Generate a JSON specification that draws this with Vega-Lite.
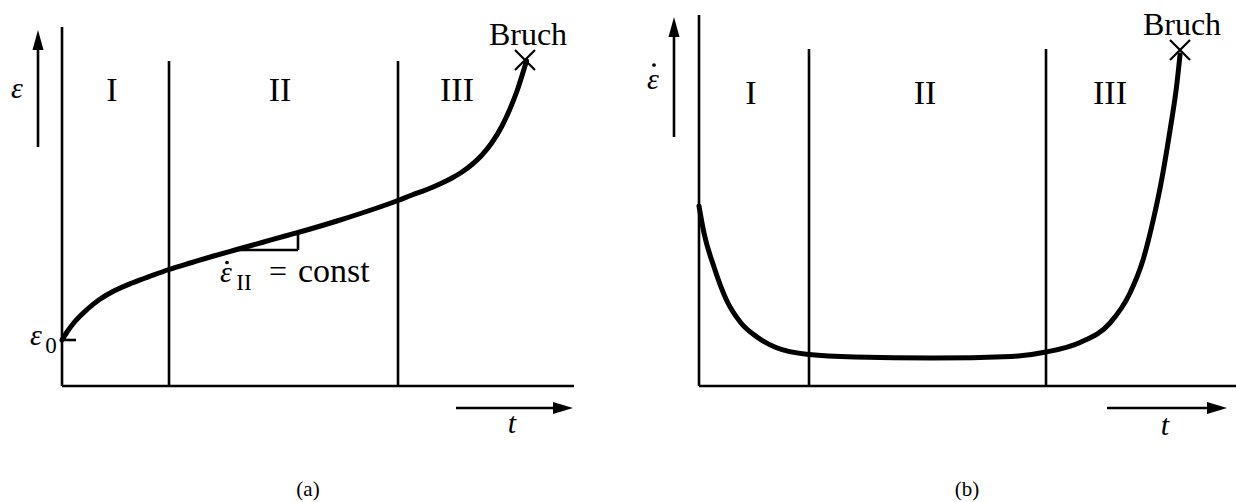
{
  "$schema": "https://vega.github.io/schema/vega-lite/v6.json",
  "padding": 0,
  "spacing": 0,
  "background": "white",
  "config": {"view": {"stroke": null}, "concat": {"spacing": 0}},
  "datasets": {
    "creepStrain": [
      {"t": 0, "e": 0.92}, {"t": 0.1, "e": 1.08}, {"t": 0.25, "e": 1.28}, {"t": 0.5, "e": 1.53},
      {"t": 0.75, "e": 1.73}, {"t": 1.0, "e": 1.88}, {"t": 1.4, "e": 2.06}, {"t": 1.8, "e": 2.21},
      {"t": 2.14, "e": 2.33}, {"t": 2.6, "e": 2.47}, {"t": 3.0, "e": 2.59}, {"t": 3.46, "e": 2.72},
      {"t": 4.0, "e": 2.87}, {"t": 4.5, "e": 3.01}, {"t": 4.72, "e": 3.07}, {"t": 5.0, "e": 3.15},
      {"t": 5.5, "e": 3.3}, {"t": 6.0, "e": 3.46}, {"t": 6.5, "e": 3.63}, {"t": 6.72, "e": 3.71},
      {"t": 7.0, "e": 3.82}, {"t": 7.3, "e": 3.93}, {"t": 7.6, "e": 4.06}, {"t": 7.8, "e": 4.16},
      {"t": 8.0, "e": 4.28}, {"t": 8.2, "e": 4.43}, {"t": 8.4, "e": 4.62}, {"t": 8.6, "e": 4.87},
      {"t": 8.8, "e": 5.2}, {"t": 8.95, "e": 5.52}, {"t": 9.1, "e": 5.9}, {"t": 9.29, "e": 6.5}
    ],
    "creepRate": [
      {"t": 0, "e": 3.6}, {"t": 0.1, "e": 3.06}, {"t": 0.3, "e": 2.38}, {"t": 0.54, "e": 1.74},
      {"t": 0.84, "e": 1.26}, {"t": 1.16, "e": 0.98}, {"t": 1.54, "e": 0.77}, {"t": 2.2, "e": 0.63},
      {"t": 3.12, "e": 0.58}, {"t": 4.68, "e": 0.56}, {"t": 6.24, "e": 0.59}, {"t": 6.94, "e": 0.68},
      {"t": 7.62, "e": 0.87}, {"t": 8.22, "e": 1.26}, {"t": 8.62, "e": 1.86}, {"t": 8.88, "e": 2.52},
      {"t": 9.08, "e": 3.3}, {"t": 9.26, "e": 4.16}, {"t": 9.36, "e": 4.74}, {"t": 9.46, "e": 5.36},
      {"t": 9.55, "e": 5.98}, {"t": 9.62, "e": 6.62}
    ],
    "linesA": [
      {"part": "y-axis", "t": 0, "e": 0, "t2": 0, "e2": 7.18},
      {"part": "x-axis", "t": 0, "e": 0, "t2": 10.24, "e2": 0},
      {"part": "stage I/II", "t": 2.14, "e": 0, "t2": 2.14, "e2": 6.5},
      {"part": "stage II/III", "t": 6.72, "e": 0, "t2": 6.72, "e2": 6.5},
      {"part": "strain arrow", "t": -0.48, "e": 4.78, "t2": -0.48, "e2": 6.9},
      {"part": "time arrow", "t": 7.88, "e": -0.44, "t2": 10.0, "e2": -0.44},
      {"part": "eps0 tick", "t": 0, "e": 0.92, "t2": 0.28, "e2": 0.92},
      {"part": "slope run", "t": 3.46, "e": 2.72, "t2": 4.72, "e2": 2.72},
      {"part": "slope rise", "t": 4.72, "e": 2.72, "t2": 4.72, "e2": 3.07}
    ],
    "linesB": [
      {"part": "y-axis", "t": 0, "e": 0, "t2": 0, "e2": 7.42},
      {"part": "x-axis", "t": 0, "e": 0, "t2": 10.74, "e2": 0},
      {"part": "stage I/II", "t": 2.2, "e": 0, "t2": 2.2, "e2": 6.74},
      {"part": "stage II/III", "t": 6.94, "e": 0, "t2": 6.94, "e2": 6.74},
      {"part": "rate arrow", "t": -0.5, "e": 4.98, "t2": -0.5, "e2": 7.16},
      {"part": "time arrow", "t": 8.16, "e": -0.44, "t2": 10.3, "e2": -0.44}
    ],
    "headsA": [
      {"dir": "up", "t": -0.48, "e": 6.92},
      {"dir": "right", "t": 10.02, "e": -0.44}
    ],
    "headsB": [
      {"dir": "up", "t": -0.5, "e": 7.18},
      {"dir": "right", "t": 10.36, "e": -0.44}
    ],
    "stagesA": [
      {"label": "I", "t": 1.0, "e": 5.7},
      {"label": "II", "t": 4.36, "e": 5.7},
      {"label": "III", "t": 7.9, "e": 5.7}
    ],
    "stagesB": [
      {"label": "I", "t": 1.04, "e": 5.64},
      {"label": "II", "t": 4.52, "e": 5.64},
      {"label": "III", "t": 8.22, "e": 5.64}
    ]
  },
  "hconcat": [
    {
      "width": 618,
      "height": 502,
      "encoding": {
        "x": {"field": "t", "type": "quantitative", "scale": {"domain": [-1.24, 11.12], "nice": false, "zero": false}, "axis": null},
        "y": {"field": "e", "type": "quantitative", "scale": {"domain": [-2.32, 7.72], "nice": false, "zero": false}, "axis": null}
      },
      "layer": [
        {
          "data": {"name": "linesA"},
          "mark": {"type": "rule", "color": "black", "strokeWidth": 2.6, "strokeCap": "butt"},
          "encoding": {"x2": {"field": "t2"}, "y2": {"field": "e2"}}
        },
        {
          "data": {"name": "creepStrain"},
          "mark": {"type": "line", "color": "black", "strokeWidth": 5, "interpolate": "monotone", "strokeCap": "round"},
          "encoding": {}
        },
        {
          "data": {"name": "headsA"},
          "transform": [{"filter": "datum.dir === 'up'"}],
          "mark": {"type": "point", "shape": "M0,-1L0.55,1L-0.55,1Z", "size": 400, "filled": true, "color": "black", "opacity": 1}
        },
        {
          "data": {"name": "headsA"},
          "transform": [{"filter": "datum.dir === 'right'"}],
          "mark": {"type": "point", "shape": "M1,0L-1,0.6L-1,-0.6Z", "size": 400, "filled": true, "color": "black", "opacity": 1}
        },
        {
          "data": {"values": [{"t": 9.26, "e": 6.52}]},
          "mark": {"type": "point", "shape": "M-1,-1L1,1M-1,1L1,-1", "size": 400, "filled": false, "color": "black", "strokeWidth": 2.2, "opacity": 1}
        },
        {
          "data": {"values": [{"t": 3.3, "e": 2.47}]},
          "mark": {"type": "point", "shape": "circle", "size": 14, "filled": true, "color": "black", "opacity": 1}
        },
        {
          "data": {"name": "stagesA"},
          "mark": {"type": "text", "font": "Liberation Serif", "fontSize": 34, "baseline": "alphabetic", "align": "center", "color": "black"},
          "encoding": {"text": {"field": "label"}}
        },
        {
          "data": {"values": [{"label": "Bruch", "t": 9.32, "e": 6.82}]},
          "mark": {"type": "text", "font": "Liberation Serif", "fontSize": 32, "baseline": "alphabetic", "align": "center", "color": "black"},
          "encoding": {"text": {"field": "label"}}
        },
        {
          "data": {"values": [
            {"label": "ε", "t": -0.9, "e": 5.76},
            {"label": "t", "t": 9.0, "e": -0.94},
            {"label": "ε", "t": -0.52, "e": 0.82},
            {"label": "ε", "t": 3.28, "e": 2.08}
          ]},
          "mark": {"type": "text", "font": "Liberation Serif", "fontStyle": "italic", "fontSize": 30, "baseline": "alphabetic", "align": "center", "color": "black"},
          "encoding": {"text": {"field": "label"}}
        },
        {
          "data": {"values": [
            {"label": "0", "t": -0.22, "e": 0.66},
            {"label": "II", "t": 3.64, "e": 1.92}
          ]},
          "mark": {"type": "text", "font": "Liberation Serif", "fontSize": 23, "baseline": "alphabetic", "align": "center", "color": "black"},
          "encoding": {"text": {"field": "label"}}
        },
        {
          "data": {"values": [{"label": "=", "t": 4.32, "e": 2.08}]},
          "mark": {"type": "text", "font": "Liberation Serif", "fontSize": 32, "baseline": "alphabetic", "align": "center", "color": "black"},
          "encoding": {"text": {"field": "label"}}
        },
        {
          "data": {"values": [{"label": "const", "t": 4.72, "e": 2.08}]},
          "mark": {"type": "text", "font": "Liberation Serif", "fontSize": 34, "baseline": "alphabetic", "align": "left", "color": "black"},
          "encoding": {"text": {"field": "label"}}
        },
        {
          "data": {"values": [{"label": "(a)", "t": 4.92, "e": -2.2}]},
          "mark": {"type": "text", "font": "Liberation Serif", "fontSize": 21, "baseline": "alphabetic", "align": "center", "color": "black"},
          "encoding": {"text": {"field": "label"}}
        }
      ]
    },
    {
      "width": 619,
      "height": 502,
      "encoding": {
        "x": {"field": "t", "type": "quantitative", "scale": {"domain": [-1.62, 10.76], "nice": false, "zero": false}, "axis": null},
        "y": {"field": "e", "type": "quantitative", "scale": {"domain": [-2.32, 7.72], "nice": false, "zero": false}, "axis": null}
      },
      "layer": [
        {
          "data": {"name": "linesB"},
          "mark": {"type": "rule", "color": "black", "strokeWidth": 2.6, "strokeCap": "butt"},
          "encoding": {"x2": {"field": "t2"}, "y2": {"field": "e2"}}
        },
        {
          "data": {"name": "creepRate"},
          "mark": {"type": "line", "color": "black", "strokeWidth": 5, "interpolate": "monotone", "strokeCap": "round"},
          "encoding": {}
        },
        {
          "data": {"name": "headsB"},
          "transform": [{"filter": "datum.dir === 'up'"}],
          "mark": {"type": "point", "shape": "M0,-1L0.55,1L-0.55,1Z", "size": 400, "filled": true, "color": "black", "opacity": 1}
        },
        {
          "data": {"name": "headsB"},
          "transform": [{"filter": "datum.dir === 'right'"}],
          "mark": {"type": "point", "shape": "M1,0L-1,0.6L-1,-0.6Z", "size": 400, "filled": true, "color": "black", "opacity": 1}
        },
        {
          "data": {"values": [{"t": 9.62, "e": 6.72}]},
          "mark": {"type": "point", "shape": "M-1,-1L1,1M-1,1L1,-1", "size": 400, "filled": false, "color": "black", "strokeWidth": 2.2, "opacity": 1}
        },
        {
          "data": {"values": [{"t": -0.9, "e": 6.42}]},
          "mark": {"type": "point", "shape": "circle", "size": 14, "filled": true, "color": "black", "opacity": 1}
        },
        {
          "data": {"name": "stagesB"},
          "mark": {"type": "text", "font": "Liberation Serif", "fontSize": 34, "baseline": "alphabetic", "align": "center", "color": "black"},
          "encoding": {"text": {"field": "label"}}
        },
        {
          "data": {"values": [{"label": "Bruch", "t": 9.66, "e": 7.02}]},
          "mark": {"type": "text", "font": "Liberation Serif", "fontSize": 32, "baseline": "alphabetic", "align": "center", "color": "black"},
          "encoding": {"text": {"field": "label"}}
        },
        {
          "data": {"values": [
            {"label": "ε", "t": -0.92, "e": 5.94},
            {"label": "t", "t": 9.32, "e": -0.98}
          ]},
          "mark": {"type": "text", "font": "Liberation Serif", "fontStyle": "italic", "fontSize": 30, "baseline": "alphabetic", "align": "center", "color": "black"},
          "encoding": {"text": {"field": "label"}}
        },
        {
          "data": {"values": [{"label": "(b)", "t": 5.36, "e": -2.2}]},
          "mark": {"type": "text", "font": "Liberation Serif", "fontSize": 21, "baseline": "alphabetic", "align": "center", "color": "black"},
          "encoding": {"text": {"field": "label"}}
        }
      ]
    }
  ]
}
